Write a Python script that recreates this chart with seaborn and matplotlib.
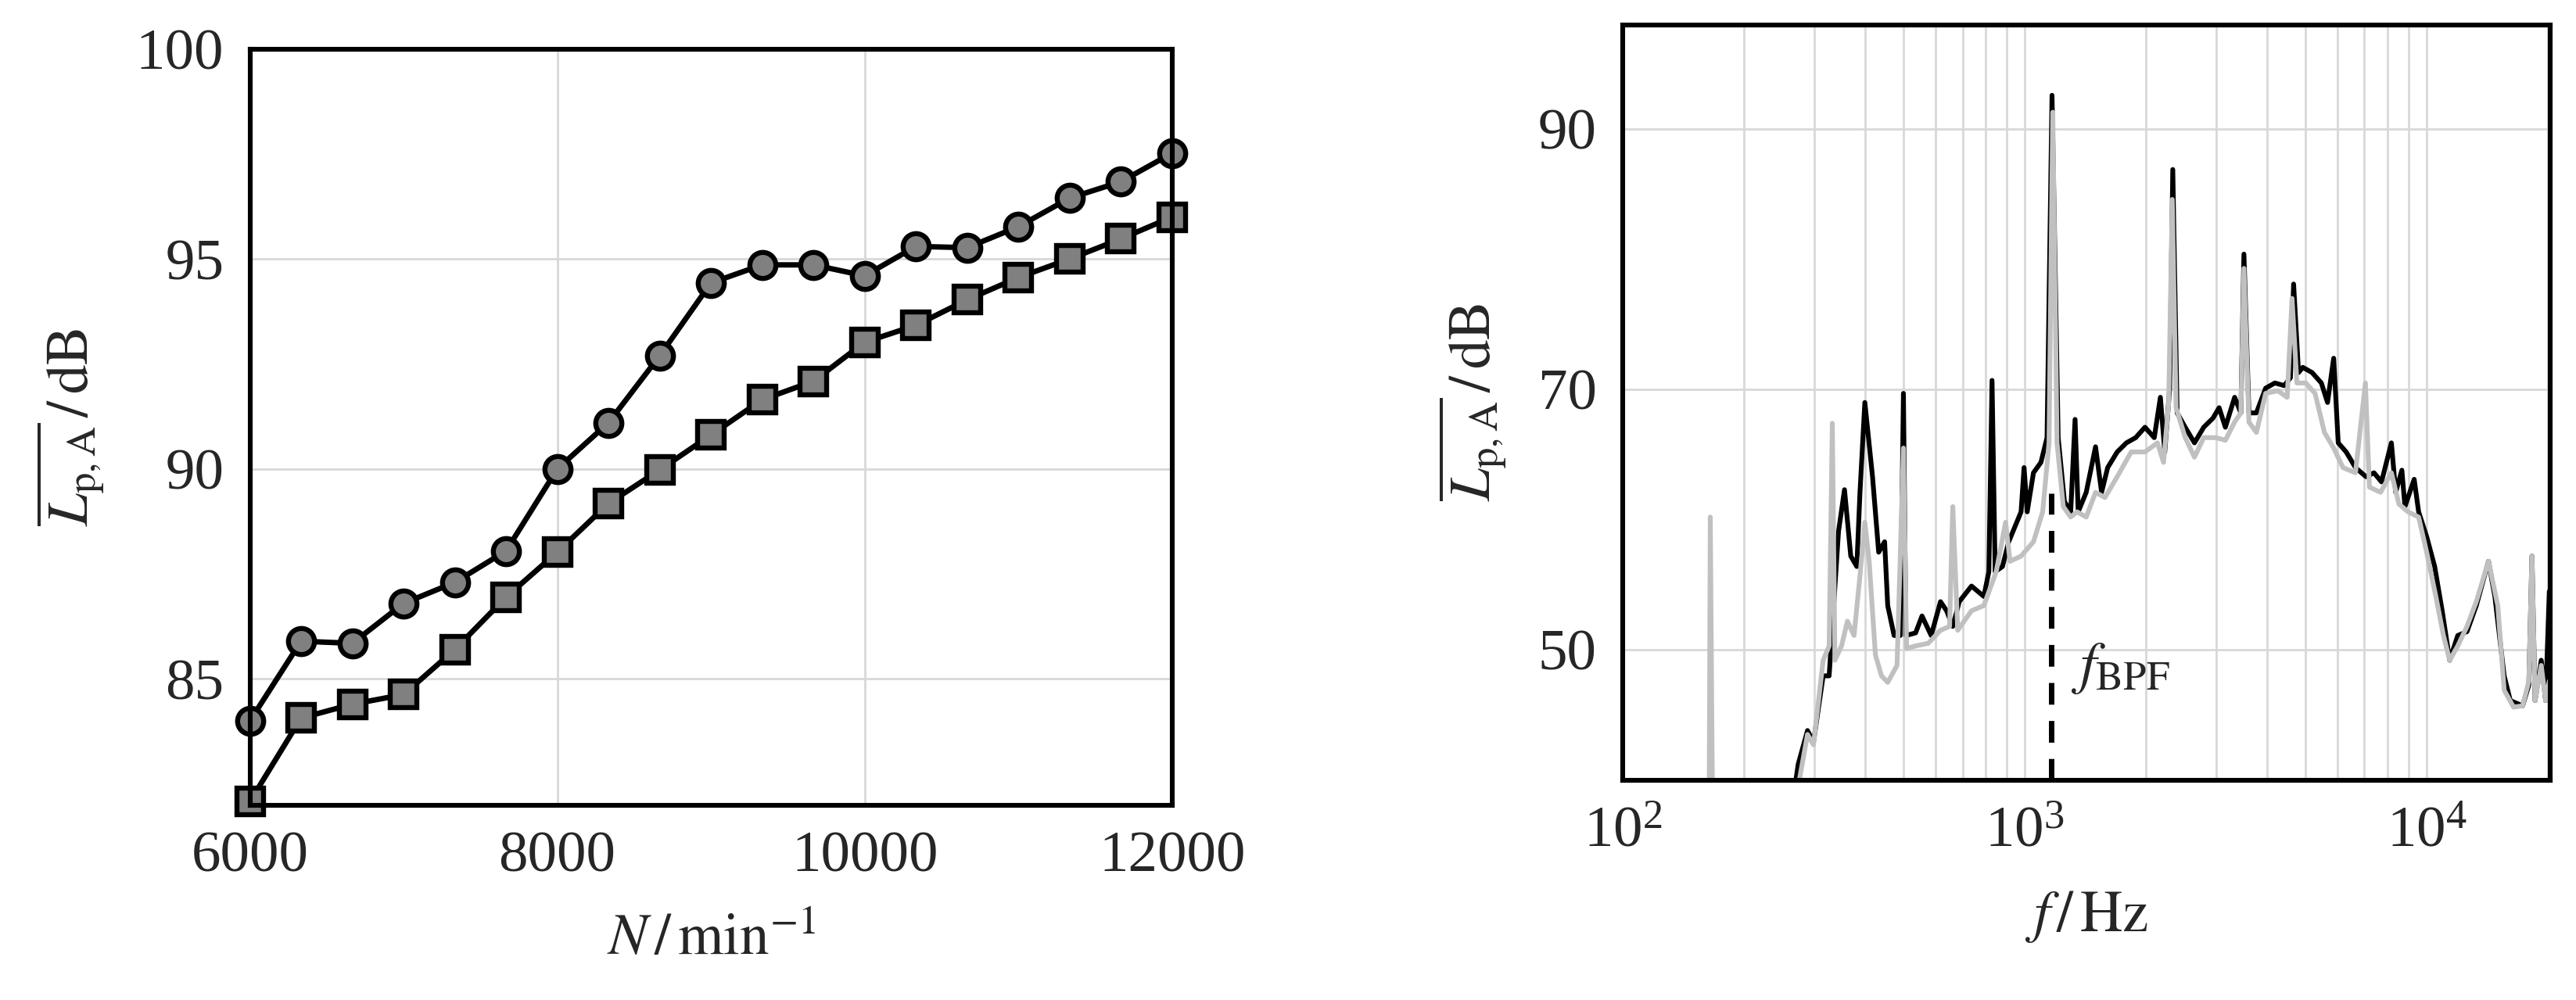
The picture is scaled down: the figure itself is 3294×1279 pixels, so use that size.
import matplotlib
matplotlib.use("Agg")
import matplotlib.pyplot as plt
import numpy as np
import pandas as pd
import seaborn as sns

# left panel: level vs speed
speed = [6000, 6333, 6667, 7000, 7333, 7667, 8000, 8333, 8667, 9000, 9333, 9667,
         10000, 10333, 10667, 11000, 11333, 11667, 12000]
level_circle = [84.0, 85.9, 85.85, 86.8, 87.3, 88.05, 90.0, 91.1, 92.7, 94.43, 94.86, 94.86,
                94.6, 95.3, 95.27, 95.77, 96.45, 96.84, 97.52]
level_square = [82.08, 84.07, 84.4, 84.63, 85.7, 86.95, 88.02, 89.18, 89.98, 90.81, 91.65, 92.09,
                93.02, 93.42, 94.03, 94.56, 95.0, 95.48, 96.0]

# right panel: spectra
freq_black = [268, 273, 288, 298, 315, 326, 344, 356, 369, 382, 389, 400, 418, 433, 448, 456, 473, 490,
              499, 506, 535, 555, 585, 617, 639, 662, 687, 737, 791, 814, 829, 844, 880, 912, 979, 996,
              1014, 1051, 1097, 1136, 1169, 1211, 1255, 1301, 1334, 1358, 1422, 1500, 1553, 1608, 1698,
              1790, 1888, 1991, 2100, 2175, 2230, 2294, 2335, 2394, 2507, 2644, 2788, 2940, 3045, 3156,
              3328, 3449, 3510, 3612, 3770, 3975, 4191, 4421, 4582, 4666, 4800, 4918, 5187, 5470, 5667,
              5870, 6025, 6306, 6650, 7063, 7395, 7720, 8170, 8375, 8676, 8830, 9310, 9550, 10000, 10470,
              10930, 11410, 11950, 12600, 13290, 14250, 14780, 15590, 16150, 17330, 17960, 18280, 18610,
              19280, 19770, 20190]
level_black = [39.5, 41.2, 43.8, 42.9, 48.0, 48.0, 59.1, 62.3, 57.2, 56.4, 62.1, 69.0, 63.3, 57.5, 58.3,
               53.4, 51.1, 51.1, 69.7, 51.1, 51.3, 52.6, 51.1, 53.7, 53.0, 51.8, 53.7, 54.9, 54.1, 56.0,
               70.7, 56.0, 56.4, 58.3, 60.6, 64.0, 60.6, 63.6, 64.4, 66.3, 92.6, 66.3, 61.4, 60.6, 67.7,
               60.6, 62.1, 65.6, 62.1, 64.0, 65.2, 65.9, 66.3, 67.1, 66.3, 69.4, 65.2, 70.1, 86.9, 68.2,
               67.1, 65.9, 67.1, 67.8, 68.6, 67.1, 69.4, 68.2, 80.4, 68.2, 68.2, 70.1, 70.5, 70.3, 70.9,
               78.1, 71.3, 71.7, 71.3, 70.5, 69.0, 72.4, 65.9, 65.2, 64.0, 63.3, 63.6, 62.9, 65.9, 62.1,
               63.8, 61.0, 63.1, 60.6, 58.7, 56.4, 53.0, 49.2, 51.1, 51.4, 53.4, 56.8, 54.1, 48.0, 46.1,
               45.7, 47.3, 57.2, 46.1, 49.2, 46.1, 54.5]
freq_grey = [164, 165, 167, np.nan, 273, 288, 298, 315, 326, 332, 337, 350, 362, 376, 389, 400, 410, 425,
             440, 456, 481, 499, 508, 535, 575, 617, 650, 662, 681, 737, 791, 849, 896, 919, 979, 1051,
             1108, 1149, 1174, 1203, 1247, 1301, 1349, 1422, 1500, 1583, 1698, 1840, 1991, 2138, 2215,
             2281, 2328, 2380, 2507, 2644, 2788, 2992, 3156, 3328, 3449, 3510, 3612, 3770, 3975, 4263,
             4497, 4624, 4755, 5004, 5277, 5567, 5870, 6190, 6650, 7040, 7204, 7680, 8170, 8530, 8990,
             9550, 10000, 10540, 11010, 11410, 11950, 12600, 13290, 14250, 15030, 15590, 16450, 17330,
             17960, 18280, 18610, 19280, 19770, 20190]
level_grey = [39.0, 60.2, 39.0, np.nan, 39.5, 43.5, 42.7, 49.2, 50.3, 67.4, 49.2, 50.3, 52.2, 51.1, 55.7,
              59.8, 56.8, 49.6, 48.0, 47.5, 48.8, 65.5, 50.1, 50.3, 50.5, 51.5, 51.8, 61.0, 51.5, 53.0,
              53.4, 56.0, 59.8, 56.8, 57.2, 58.3, 60.6, 65.9, 91.3, 65.9, 61.0, 60.2, 60.6, 60.2, 62.1,
              61.7, 63.3, 65.2, 65.2, 65.9, 64.4, 69.0, 84.6, 68.6, 66.3, 64.8, 66.3, 66.3, 66.1, 67.5,
              68.2, 79.3, 67.5, 66.7, 69.7, 69.9, 69.4, 77.0, 70.5, 70.5, 69.7, 66.7, 65.5, 64.0, 63.6,
              70.5, 62.5, 62.1, 63.6, 61.2, 60.6, 60.2, 57.5, 54.1, 51.1, 49.2, 50.3, 51.8, 53.7, 56.8,
              53.4, 46.9, 45.6, 45.7, 47.6, 57.2, 46.1, 48.8, 46.1, 47.6]
f_bpf = 1165

sns.set_style("whitegrid")
plt.rcParams.update({
    "font.family": ["Liberation Serif", "DejaVu Serif"],
    "mathtext.fontset": "stix",
    "font.size": 27,
    "axes.edgecolor": "black",
    "axes.linewidth": 2.2,
    "grid.color": "#d8d8d8",
    "grid.linewidth": 1.0,
})

fig = plt.figure(figsize=(16.47, 6.395), dpi=200)
ax1 = fig.add_axes([0.097, 0.195, 0.358, 0.756])
ax2 = fig.add_axes([0.630, 0.220, 0.360, 0.755])

df = pd.DataFrame({"N": speed * 2, "L": level_circle + level_square,
                   "kind": ["c"] * len(speed) + ["s"] * len(speed)})
sns.lineplot(data=df, x="N", y="L", style="kind", markers={"c": "o", "s": "s"}, dashes=False,
             color="black", linewidth=2.5, markersize=12, markerfacecolor="#808080",
             markeredgecolor="black", markeredgewidth=2.3, legend=False, ax=ax1, clip_on=False, zorder=3)
ax1.set_xlim(6000, 12000)
ax1.set_ylim(82, 100)
ax1.set_xticks([6000, 8000, 10000, 12000])
ax1.set_yticks([85, 90, 95, 100])
ax1.set_xlabel(r"$N\,/\,\mathrm{min}^{-1}$", fontsize=27, labelpad=14)
ax1.set_ylabel(r"$\overline{L_{\mathrm{p,A}}}\,/\,\mathrm{dB}$", fontsize=27, labelpad=14)

sns.lineplot(x=freq_black, y=level_black, color="black", linewidth=2.2, ax=ax2, sort=False)
sns.lineplot(x=freq_grey, y=level_grey, color="#c0c0c0", linewidth=2.2, ax=ax2, sort=False)
ax2.axvline(f_bpf, color="black", linestyle=(0, (4, 3)), linewidth=2.5, ymax=0.38)
ax2.text(1300, 47.5, r"$f_{\mathrm{BPF}}$", fontsize=27)
ax2.set_xscale("log")
ax2.set_xlim(100, 20300)
ax2.set_ylim(40, 98)
ax2.set_yticks([50, 70, 90])
ax2.grid(True, which="both", axis="x")
ax2.set_xlabel(r"$f\,/\,\mathrm{Hz}$", fontsize=27, labelpad=14)
ax2.set_ylabel(r"$\overline{L_{\mathrm{p,A}}}\,/\,\mathrm{dB}$", fontsize=27, labelpad=14)

for ax in (ax1, ax2):
    ax.tick_params(labelsize=27, direction="in", length=6, color="#777777", pad=12)
    for s in ax.spines.values():
        s.set_zorder(5)

fig.savefig("out.png", dpi=200)
